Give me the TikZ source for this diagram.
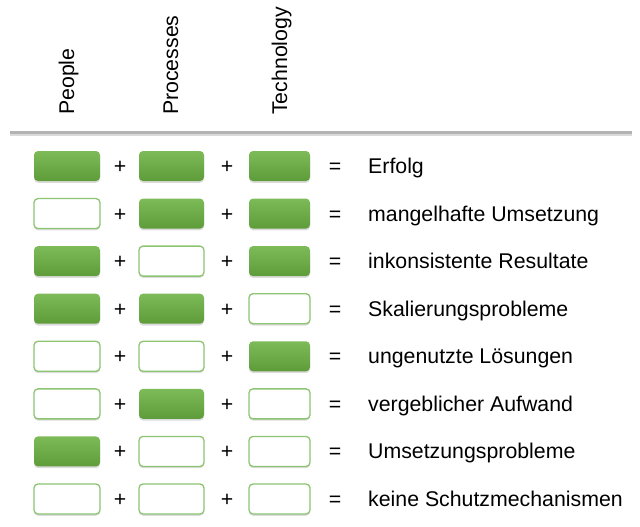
\documentclass[tikz,border=0pt]{standalone}
\usepackage{fontspec}
\setmainfont{Liberation Sans}
\usetikzlibrary{shadows}
\definecolor{gtop}{HTML}{7DBB59}
\definecolor{gbot}{HTML}{5E9C3A}
\definecolor{gline}{HTML}{8DC472}
\definecolor{rulegray}{HTML}{B3B3B3}
\definecolor{ruleshade}{HTML}{DADADA}
\begin{document}
\begin{tikzpicture}[x=1pt,y=1pt,
  font=\fontsize{21.3}{25}\selectfont,
  boxbase/.style={rounded corners=4pt, minimum height=30pt, inner sep=0pt,
    drop shadow={opacity=0.28, shadow xshift=0pt, shadow yshift=-1.8pt}},
  onbox/.style={boxbase, top color=gtop, bottom color=gbot, draw=none},
  offbox/.style={boxbase, fill=white, draw=gline, line width=1.3pt},
  pick/.code={\ifnum#1=1 \pgfkeysalso{onbox}\else\pgfkeysalso{offbox}\fi},
  head/.style={rotate=90, anchor=base west, inner sep=0pt},
  sym/.style={anchor=base, inner sep=0pt},
  lbl/.style={anchor=base west, inner sep=0pt}]
\useasboundingbox (0,0) rectangle (640,-527);
% headers
\node[head] (hp) at (74,-115) {People};
\node[head] (hq) at (178,-115) {Processes};
\node[head] (ht) at (287,-115) {Technology};
% rule
\coordinate (rl) at (10,-132.5);
\coordinate (rr) at (632,-132.5);
\draw[ruleshade, line width=2pt] ([yshift=-2.5pt]rl) -- ([yshift=-2.5pt]rr);
\draw[rulegray, line width=3.5pt] (rl) -- (rr);
% rows
\foreach \a/\b/\c/\t [count=\i] in {
  1/1/1/Erfolg,
  0/1/1/mangelhafte Umsetzung,
  1/0/1/inkonsistente Resultate,
  1/1/0/Skalierungsprobleme,
  0/0/1/ungenutzte Lösungen,
  0/1/0/vergeblicher Aufwand,
  1/0/0/Umsetzungsprobleme,
  0/0/0/keine Schutzmechanismen}{
  \pgfmathsetmacro{\yy}{-(166+47.57*(\i-1))}
  \node[pick=\a, minimum width=66pt] (p\i) at (67,\yy) {};
  \node[pick=\b, minimum width=65pt] (q\i) at (171.5,\yy) {};
  \node[pick=\c, minimum width=61pt] (t\i) at (279.5,\yy) {};
  \node[sym] (plusa\i) at (120,\yy-7.5) {+};
  \node[sym] (plusb\i) at (227,\yy-7.5) {+};
  \node[sym] (eq\i) at (335,\yy-7.5) {=};
  \node[lbl] (r\i) at (368,\yy-7.5) {\t};
}
\end{tikzpicture}
\end{document}
